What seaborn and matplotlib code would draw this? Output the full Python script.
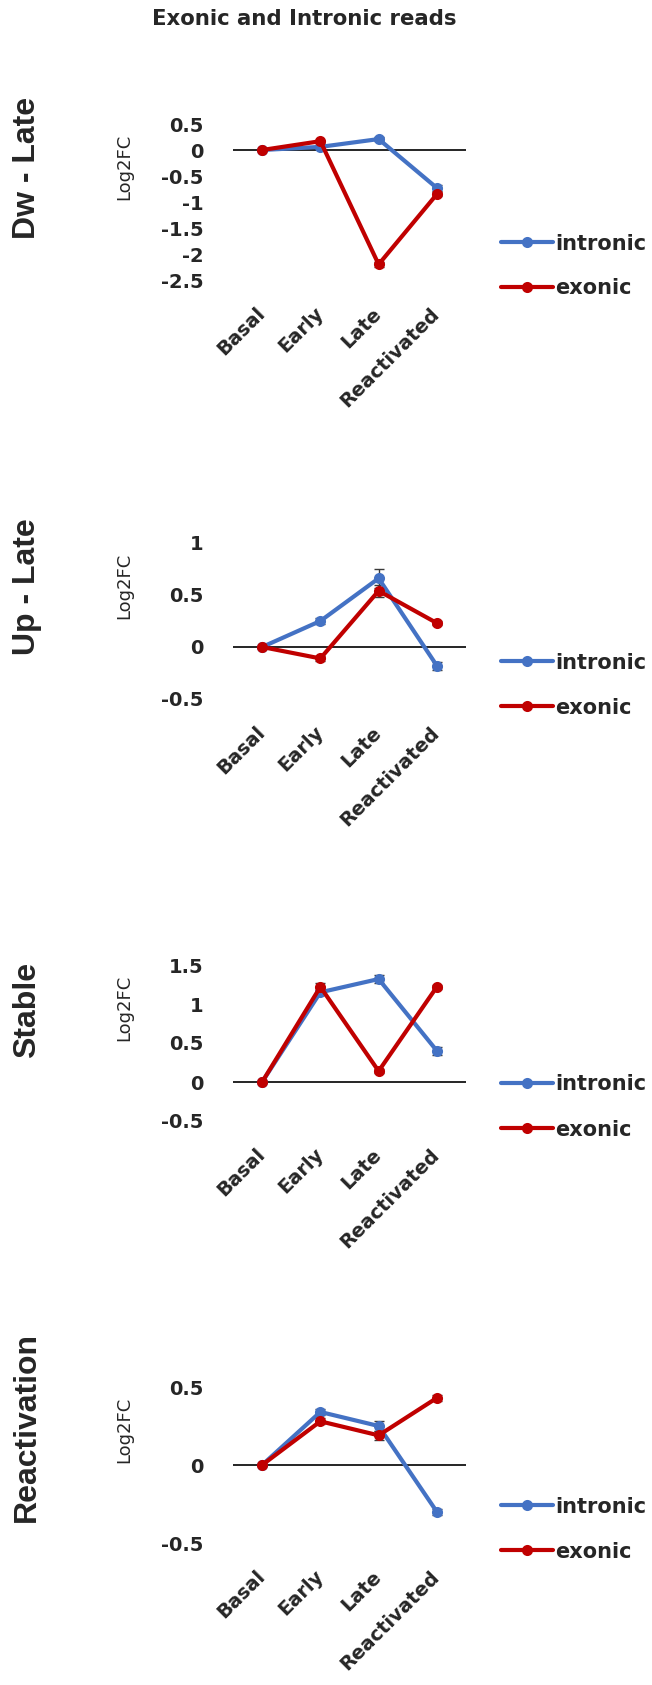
import matplotlib
matplotlib.use("Agg")
import matplotlib.pyplot as plt
from matplotlib.lines import Line2D
import pandas as pd
import seaborn as sns

# --- dados ---
stages = ["Basal", "Early", "Late", "Reactivated"]
series_names = ["intronic", "exonic"]
panel_names = ["Dw - Late", "Up - Late", "Stable", "Reactivation"]

dw_intronic = [0, 0.06, 0.21, -0.73]
dw_exonic = [0, 0.17, -2.2, -0.85]
dw_intronic_err = [0, 0.03, 0.04, 0.05]
dw_exonic_err = [0, 0.03, 0.05, 0.04]

up_intronic = [0, 0.25, 0.66, -0.18]
up_exonic = [0, -0.11, 0.54, 0.23]
up_intronic_err = [0, 0.03, 0.09, 0.04]
up_exonic_err = [0, 0.02, 0.06, 0.02]

stable_intronic = [0, 1.15, 1.32, 0.40]
stable_exonic = [0, 1.22, 0.14, 1.22]
stable_intronic_err = [0, 0.03, 0.05, 0.05]
stable_exonic_err = [0, 0.05, 0.03, 0.03]

react_intronic = [0, 0.34, 0.25, -0.30]
react_exonic = [0, 0.28, 0.19, 0.43]
react_intronic_err = [0, 0.02, 0.03, 0.02]
react_exonic_err = [0, 0.02, 0.03, 0.02]

panel_ticks = [
    [0.5, 0, -0.5, -1, -1.5, -2, -2.5],
    [1, 0.5, 0, -0.5],
    [1.5, 1, 0.5, 0, -0.5],
    [0.5, 0, -0.5],
]

panel_values = [
    (dw_intronic, dw_exonic, dw_intronic_err, dw_exonic_err),
    (up_intronic, up_exonic, up_intronic_err, up_exonic_err),
    (stable_intronic, stable_exonic, stable_intronic_err, stable_exonic_err),
    (react_intronic, react_exonic, react_intronic_err, react_exonic_err),
]

cores = {"intronic": "#4472C4", "exonic": "#C00000"}

# --- layout (pixels) ---
W, H = 652, 1685
ax_tops = [124, 543, 965, 1387]
ax_h = 156
ax_left, ax_w = 233, 233
row_label_y = [168, 587, 1010, 1427]

sns.set_style("white")
plt.rcParams["font.family"] = ["DejaVu Sans"]

fig = plt.figure(figsize=(W / 100, H / 100), dpi=100)

fig.text(304 / W, 1 - 19 / H, "Exonic and Intronic reads", ha="center", va="center",
         fontsize=15.3, fontweight="bold")

for i, nome in enumerate(panel_names):
    top = ax_tops[i]
    ax = fig.add_axes([ax_left / W, 1 - (top + ax_h) / H, ax_w / W, ax_h / H])
    intr, exon, intr_err, exon_err = panel_values[i]

    df = pd.DataFrame({
        "stage": stages * 2,
        "log2fc": intr + exon,
        "series": ["intronic"] * 4 + ["exonic"] * 4,
    })

    ax.axhline(0, color="black", lw=1.2, zorder=1)
    for s, vals, errs in [("intronic", intr, intr_err), ("exonic", exon, exon_err)]:
        ax.errorbar(range(4), vals, yerr=errs, fmt="none", ecolor="#3a3a3a",
                    elinewidth=1, capsize=3.5, capthick=1, zorder=2)
    sns.lineplot(data=df, x="stage", y="log2fc", hue="series", palette=cores,
                 hue_order=series_names, marker="o", markersize=8, markeredgewidth=0,
                 linewidth=3, sort=False, legend=False, ax=ax, zorder=3)

    ticks = panel_ticks[i]
    ax.set_ylim(min(ticks), max(ticks))
    ax.set_xlim(-0.5, 3.5)
    ax.set_yticks(ticks)
    ax.set_yticklabels(["{:g}".format(t) for t in ticks], fontsize=14, fontweight="bold")
    ax.set_xticks(range(4))
    ax.set_xticklabels(stages, fontsize=14, fontweight="bold", rotation=45,
                       ha="right", va="center", rotation_mode="anchor")
    ax.tick_params(axis="y", length=0, pad=21)
    ax.tick_params(axis="x", length=0, pad=22)
    ax.set_xlabel("")
    ax.set_ylabel("")
    for sp in ax.spines.values():
        sp.set_visible(False)
    ax.patch.set_alpha(0)

    handles = [Line2D([], [], color=cores[s], lw=3, marker="o", markersize=8,
                      markeredgewidth=0) for s in series_names]
    ax.legend(handles, series_names, loc="center left",
              bbox_to_anchor=((501 - ax_left) / ax_w, 1 - 142 / ax_h),
              frameon=False, borderpad=0, borderaxespad=0, handlelength=2.5,
              handletextpad=0.1, labelspacing=1.2, numpoints=1,
              prop={"weight": "bold", "size": 15})

    fig.text(124 / W, 1 - (top + 43) / H, "Log2FC", rotation=90, ha="center",
             va="center", fontsize=13)
    fig.text(27 / W, 1 - row_label_y[i] / H, nome, rotation=90, ha="center",
             va="center", fontsize=23, fontweight="bold", family="Liberation Sans")

fig.savefig("out.png", dpi=100)
